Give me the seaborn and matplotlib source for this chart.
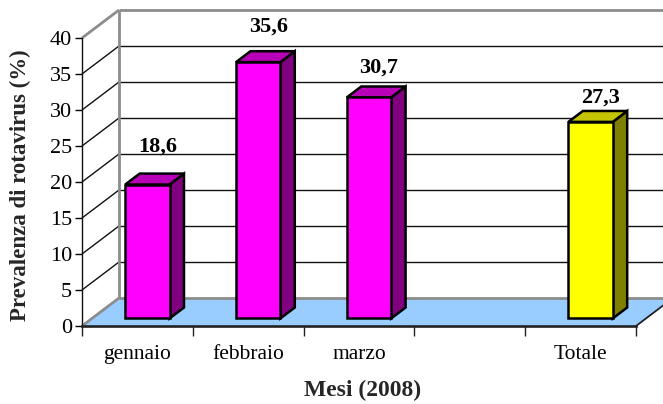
import matplotlib
matplotlib.use("Agg")
import matplotlib.pyplot as plt
import numpy as np
import pandas as pd
import seaborn as sns
from matplotlib.patches import Polygon
from matplotlib.lines import Line2D
from matplotlib.transforms import ScaledTranslation, IdentityTransform

# --- data -------------------------------------------------------------
mesi = ["gennaio", "febbraio", "marzo", "Totale"]
prevalenza = [18.6, 35.6, 30.7, 27.3]
etichette = ["18,6", "35,6", "30,7", "27,3"]
ordine = ["gennaio", "febbraio", "marzo", "", "Totale"]
y_ticks = [0, 5, 10, 15, 20, 25, 30, 35, 40]

# --- style ------------------------------------------------------------
sns.set_theme(style="white")
plt.rcParams["font.family"] = ["Liberation Serif", "DejaVu Serif"]

colori_fronte = {"gennaio": "#FF00FF", "febbraio": "#FF00FF",
                 "marzo": "#FF00FF", "Totale": "#FFFF00"}
colori_lato = {"#FF00FF": "#800080", "#FFFF00": "#808000"}
colori_cima = {"#FF00FF": "#B800B8", "#FFFF00": "#C4C400"}

W, H, DPI = 663, 404, 100
fig = plt.figure(figsize=(W / DPI, H / DPI), dpi=DPI)
fig.patch.set_facecolor("white")

# front plane of the 3-D box (pixels)
x0p, x1p, y0p, y1p = 82, 636, 326, 38
ax = fig.add_axes([x0p / W, (H - y0p) / H, (x1p - x0p) / W, (y0p - y1p) / H])
ax.set_facecolor("none")

df = pd.DataFrame({"mese": mesi, "prevalenza": prevalenza})
sns.barplot(data=df, x="mese", y="prevalenza", order=ordine, hue="mese",
            hue_order=mesi, palette=colori_fronte, dodge=False, width=0.4,
            saturation=1, edgecolor="black", linewidth=1.8, legend=False,
            ax=ax)
bars = sorted(list(ax.patches), key=lambda p: p.get_x())

ax.set_xlim(-0.5, 4.5)
ax.set_ylim(0, 40)

# depth of the box and of the bars
DX, DY = 37, 28
d_front, d_back = 0.27, 0.66


def px(x, y, d=0.0):
    X, Y = ax.transData.transform((x, y))
    return (X + d * DX, Y + d * DY)


ident = IdentityTransform()


def seg(p, q, color, lw, z=1):
    ax.add_line(Line2D([p[0], q[0]], [p[1], q[1]], color=color, lw=lw,
                       transform=ident, clip_on=False, zorder=z,
                       solid_capstyle="butt"))


xa, xb = ax.get_xlim()
grigio = "#8c8c8c"

# floor
ax.add_patch(Polygon([px(xa, 0), px(xb, 0), px(xb, 0, 1), px(xa, 0, 1)],
                     closed=True, facecolor="#99CCFF", edgecolor="none",
                     transform=ident, clip_on=False, zorder=0.5))

# gridlines on back wall and side wall
for t in y_ticks[1:-1]:
    seg(px(xa, t, 1), px(xb + 1, t, 1), "#111111", 1.0)
    seg(px(xa, t, 0), px(xa, t, 1), "#111111", 1.0)

# wall frame
seg(px(xa, 40, 1), px(xb + 1, 40, 1), grigio, 2.0)
seg(px(xa, 40, 0), px(xa, 40, 1), grigio, 2.0)
seg(px(xa, 0, 1), px(xa, 40, 1), grigio, 2.0)
seg(px(xa, 0, 1), px(xb + 1, 0, 1), grigio, 2.0)
seg(px(xa, 0, 0), px(xa, 0, 1), grigio, 2.0)
seg(px(xb, 0, 0), px(xb, 0, 1), "#222222", 1.3)

# bars: front faces from seaborn, shifted into depth; side and top faces
shift = ScaledTranslation(d_front * DX / DPI, d_front * DY / DPI,
                          fig.dpi_scale_trans)
for bar, lab in zip(bars, etichette):
    bx0 = bar.get_x()
    bx1 = bx0 + bar.get_width()
    h = bar.get_height()
    fc = matplotlib.colors.to_hex(bar.get_facecolor()).upper()
    bar.set_transform(ax.transData + shift)
    bar.set_clip_on(False)
    bar.set_zorder(6)
    bar.set_joinstyle("miter")
    lato = [px(bx1, 0, d_front), px(bx1, h, d_front),
            px(bx1, h, d_back), px(bx1, 0, d_back)]
    cima = [px(bx0, h, d_front), px(bx1, h, d_front),
            px(bx1, h, d_back), px(bx0, h, d_back)]
    ax.add_patch(Polygon(lato, closed=True, facecolor=colori_lato[fc],
                         edgecolor="black", lw=1.8, joinstyle="miter",
                         transform=ident, clip_on=False, zorder=5))
    ax.add_patch(Polygon(cima, closed=True, facecolor=colori_cima[fc],
                         edgecolor="black", lw=1.8, joinstyle="miter",
                         transform=ident, clip_on=False, zorder=5))

# value labels above the bars
alzata = [38, 36, 30, 24]
for bar, lab, a in zip(bars, etichette, alzata):
    cx = bar.get_x() + bar.get_width() / 2
    X, Y = px(cx, bar.get_height(), d_front)
    ax.text(X + 10, Y + a, lab, transform=ident, ha="center", va="center",
            fontsize=16, fontweight="bold", color="black", zorder=8)

# axes, ticks and labels
for s in ["top", "right"]:
    ax.spines[s].set_visible(False)
ax.spines["left"].set_color("#111111")
ax.spines["left"].set_linewidth(1.0)
ax.spines["bottom"].set_color("#222222")
ax.spines["bottom"].set_linewidth(1.9)
ax.spines["left"].set_zorder(7)
ax.spines["bottom"].set_zorder(7)

ax.set_yticks(y_ticks)
ax.set_yticklabels([str(t) for t in y_ticks])
ax.tick_params(axis="y", direction="out", length=5, width=1.0, pad=2,
               labelsize=16, colors="black", left=True)
ax.set_xticks(range(len(ordine)))
ax.set_xticklabels(ordine)
ax.set_xticks(np.arange(-0.5, len(ordine), 1.0), minor=True)
ax.tick_params(axis="x", which="major", length=0, pad=14, labelsize=15.5,
               colors="black")
ax.tick_params(axis="x", which="minor", direction="out", length=7,
               width=1.0, color="#222222", bottom=True)
ax.grid(False)

ax.set_xlabel("Mesi (2008)", fontsize=17, fontweight="bold")
ax.xaxis.label.set_va("center")
ax.xaxis.set_label_coords((363 - x0p) / (x1p - x0p), (y0p - 390) / (y0p - y1p))
ax.set_ylabel("Prevalenza di rotavirus (%)", fontsize=16.5, fontweight="bold")
ax.yaxis.label.set_va("center")
ax.yaxis.set_label_coords((20 - x0p) / (x1p - x0p), (y0p - 185) / (y0p - y1p))

fig.savefig("out.png", dpi=DPI)
